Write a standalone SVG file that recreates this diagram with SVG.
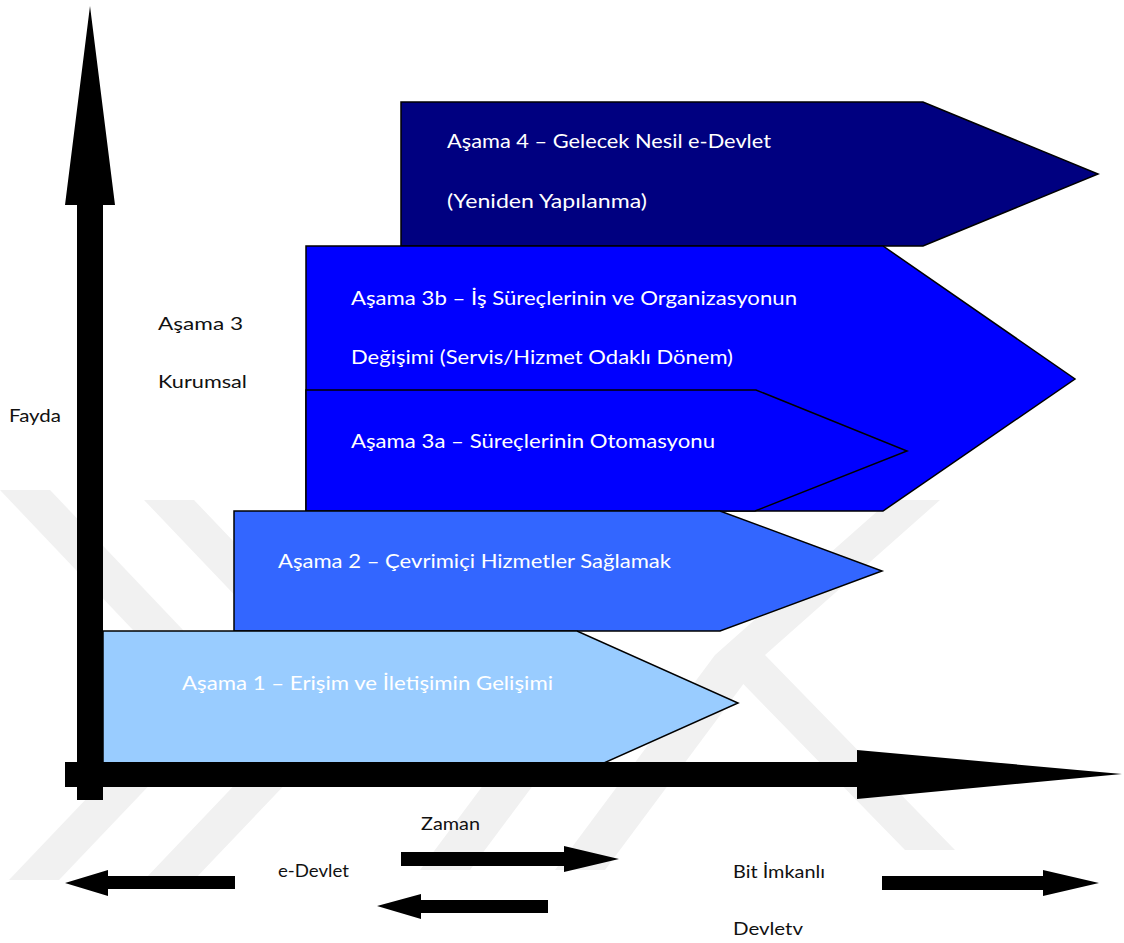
<svg xmlns="http://www.w3.org/2000/svg" width="1124" height="943" viewBox="0 0 1124 943">
<style>
.wm{fill:#f1f1f1;stroke:none}
.stage{stroke:#000;stroke-width:1.5;stroke-linejoin:miter}
.wt{font-family:Lato,"Liberation Sans",sans-serif;font-size:19px;fill:#ffffff}
.bt{font-family:Lato,"Liberation Sans",sans-serif;font-size:18px;fill:#111111}
.ar{fill:#000;stroke:none}
</style>
<rect x="0" y="0" width="1124" height="943" fill="#ffffff"/>
<g id="watermark">
<polygon class="wm" points="0,490 50,490 240,690 59,880 9,880 190,690 0,490"/>
<polygon class="wm" points="144,500 194,500 375,690 194,880 144,880 325,690"/>
<polygon class="wm" points="890,500 940,500 765,655 955,850 905,850 715,655"/>
<polygon class="wm" points="715,655 765,655 605,870 555,870"/>
<polygon class="wm" points="580,655 630,655 470,870 420,870"/>
</g>
<g id="stage4">
<polygon class="stage" fill="#000080" points="401,102 923,102 1098,174 923,246 401,246"/>
<text class="wt" x="447" y="147.5" textLength="324" lengthAdjust="spacingAndGlyphs">Aşama 4 – Gelecek Nesil e-Devlet</text>
<text class="wt" x="447" y="208" textLength="200" lengthAdjust="spacingAndGlyphs">(Yeniden Yapılanma)</text>
</g>
<g id="stage3b">
<polygon class="stage" fill="#0000ff" points="306,246 883,246 1075,379 883,511 306,511"/>
<text class="wt" x="351" y="305" textLength="446" lengthAdjust="spacingAndGlyphs">Aşama 3b – İş Süreçlerinin ve Organizasyonun</text>
<text class="wt" x="351" y="364" textLength="382" lengthAdjust="spacingAndGlyphs">Değişimi (Servis/Hizmet Odaklı Dönem)</text>
</g>
<g id="stage3a">
<polygon class="stage" fill="#0000ff" points="306,390 756,390 907,451 755,511 306,511"/>
<text class="wt" x="351" y="448" textLength="364" lengthAdjust="spacingAndGlyphs">Aşama 3a – Süreçlerinin Otomasyonu</text>
</g>
<g id="stage2">
<polygon class="stage" fill="#3366ff" points="234,511 720,511 882,571 720,631 234,631"/>
<text class="wt" x="278" y="568" textLength="393" lengthAdjust="spacingAndGlyphs">Aşama 2 – Çevrimiçi Hizmetler Sağlamak</text>
</g>
<g id="stage1">
<polygon class="stage" fill="#99ccff" points="103,631 577,631 738,703 577,775 103,775"/>
<text class="wt" x="182" y="690" textLength="371" lengthAdjust="spacingAndGlyphs">Aşama 1 – Erişim ve İletişimin Gelişimi</text>
</g>
<g id="label-asama3">
<text class="bt" x="158" y="330" textLength="85" lengthAdjust="spacingAndGlyphs">Aşama 3</text>
<text class="bt" x="158" y="388" textLength="89" lengthAdjust="spacingAndGlyphs">Kurumsal</text>
</g>
<g id="label-fayda">
<text class="bt" x="9" y="422" textLength="52" lengthAdjust="spacingAndGlyphs">Fayda</text>
</g>
<g id="label-zaman">
<text class="bt" x="421" y="830" textLength="59" lengthAdjust="spacingAndGlyphs">Zaman</text>
</g>
<g id="label-edevlet">
<text class="bt" x="278" y="877" textLength="71" lengthAdjust="spacingAndGlyphs">e-Devlet</text>
</g>
<g id="label-bit">
<text class="bt" x="733" y="878" textLength="92" lengthAdjust="spacingAndGlyphs">Bit İmkanlı</text>
<text class="bt" x="733" y="935" textLength="70" lengthAdjust="spacingAndGlyphs">Devletv</text>
</g>
<g id="connectors">
<polygon class="ar" points="90,6 115,205 103,205 103,800 77,800 77,205 65,205"/>
<polygon class="ar" points="65,762 857,762 857,750 1122,774 857,799 857,787 65,787"/>
<polygon class="ar" points="65,883 108,870 108,876 235,876 235,889 108,889 108,896"/>
<polygon class="ar" points="401,852 564,852 564,846 619,859 564,872 564,866 401,866"/>
<polygon class="ar" points="377,906 421,894 421,900 548,900 548,913 421,913 421,919"/>
<polygon class="ar" points="882,876 1043,876 1043,870 1099,883 1043,896 1043,890 882,890"/>
</g>
</svg>
